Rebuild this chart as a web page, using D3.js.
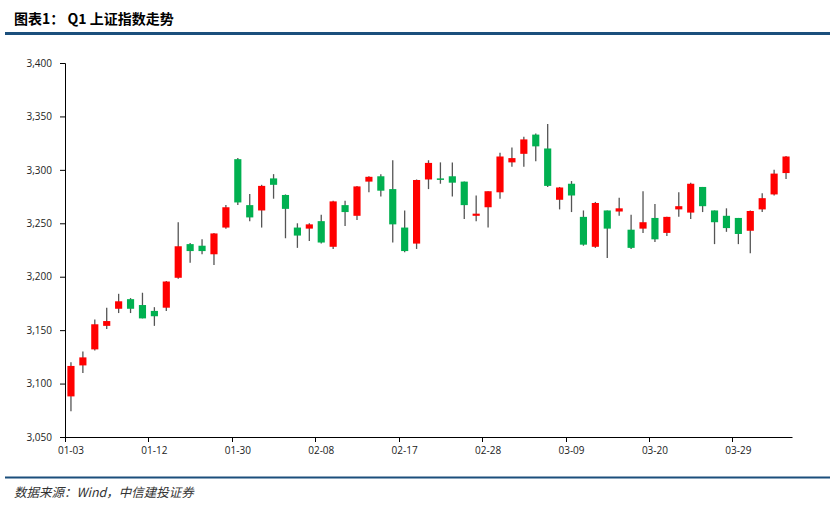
<!DOCTYPE html>
<html><head><meta charset="utf-8">
<script src="https://cdn.jsdelivr.net/npm/d3@7/dist/d3.min.js"></script>
<style>body{margin:0;background:#fff;}svg{display:block;}</style>
</head><body>
<svg id="c" width="835" height="505"></svg>
<script>
const dates = ["01-03","01-04","01-05","01-06","01-09","01-10","01-11","01-12","01-13","01-16","01-17","01-18","01-19","01-20","01-30","01-31","02-01","02-02","02-03","02-06","02-07","02-08","02-09","02-10","02-13","02-14","02-15","02-16","02-17","02-20","02-21","02-22","02-23","02-24","02-27","02-28","03-01","03-02","03-03","03-06","03-07","03-08","03-09","03-10","03-13","03-14","03-15","03-16","03-17","03-20","03-21","03-22","03-23","03-24","03-27","03-28","03-29","03-30","03-31","04-03","04-04"];
const open  = [3088,3117,3132,3154,3170,3179,3173.5,3168,3171,3199,3230.5,3229,3221,3246,3310,3267,3262,3292,3276.5,3246,3245,3252,3228,3267,3257,3289,3294,3282,3246,3231,3291,3292,3294,3289,3257,3265,3279,3307,3315,3333,3320,3272,3287,3256,3228,3262,3261,3244,3245,3255,3241,3263,3260,3284,3262,3257,3255,3243,3263,3277,3297];
const close = [3116.5,3124.5,3155.5,3158.5,3177,3170,3161,3163,3195.5,3228.5,3224,3224,3240.5,3265,3269.5,3255.5,3285,3286,3263.5,3238.5,3249,3232,3270.5,3260.5,3284.5,3293.5,3280.5,3249,3224,3290.5,3306.5,3291,3288,3267,3259,3280,3312.5,3311,3328.5,3322,3285,3283.5,3276,3230,3269,3245,3264,3227,3251,3235,3256,3266,3287,3266,3251,3245.5,3240,3261.5,3273.5,3296.5,3312.5];
const high  = [3120,3130,3160,3171,3184,3180,3185,3171.5,3196,3251,3231.5,3235,3241,3267,3311,3277.5,3286,3296,3277,3250,3250,3258,3271,3271,3285,3294,3296,3309,3262,3291,3309,3307,3307,3289,3276,3280,3316,3321,3331,3334,3343,3284,3289.5,3262,3270,3262,3274,3258,3280,3268,3256,3279,3288,3284,3262,3264,3255,3262,3278,3300,3313];
const low   = [3074,3110,3131,3151,3166,3166,3161,3154,3168,3198,3213,3221,3211,3245,3267,3252,3246,3273,3236,3227,3233.5,3231,3226,3247.5,3253,3279,3275,3232,3223,3226,3282,3287,3275,3254,3252,3246,3273,3303,3303,3308,3284,3263,3260.5,3229,3227,3217.5,3257,3226,3241,3232.5,3238,3256,3254,3260.5,3230.5,3242,3230.5,3222,3260.5,3276,3291.5];
const labelIdx = [0,7,14,21,28,35,42,49,56];
const yTicks = [3050,3100,3150,3200,3250,3300,3350,3400];

const svg = d3.select("#c");
const L = 65, R = 792, T = 63, B = 437;
const x = d3.scaleBand().domain(d3.range(dates.length)).range([L, R]).paddingInner(0).paddingOuter(0);
const y = d3.scaleLinear().domain([3050, 3400]).range([B, T]);

// title
svg.append("text").attr("x", 14).attr("y", 24)
  .attr("font-family", "'Noto Sans CJK SC', sans-serif").attr("font-weight", "bold")
  .attr("font-size", 14).attr("fill", "#000").text("图表1： Q1 上证指数走势");
svg.append("line").attr("x1", 5).attr("x2", 830).attr("y1", 33.5).attr("y2", 33.5)
  .attr("stroke", "#1B4F7C").attr("stroke-width", 3);
// footer
svg.append("line").attr("x1", 5).attr("x2", 830).attr("y1", 477.5).attr("y2", 477.5)
  .attr("stroke", "#1B4F7C").attr("stroke-width", 2);
svg.append("text").attr("x", 14).attr("y", 497)
  .attr("font-family", "'Noto Sans CJK SC', sans-serif").attr("font-style", "italic")
  .attr("font-size", 12.5).attr("fill", "#333").attr("transform", "skewX(0)")
  .text("数据来源：Wind，中信建投证券");

// y axis
const yAxis = svg.append("g").attr("transform", `translate(${L},0)`)
  .call(d3.axisLeft(y).tickValues(yTicks).tickFormat(d3.format(",")).tickSize(5).tickPadding(8));
yAxis.select(".domain").attr("stroke", "#000").attr("stroke-width", 1);
yAxis.selectAll(".tick line").attr("stroke", "#000");
yAxis.selectAll("text").attr("font-family", "'Open Sans', sans-serif").attr("font-size", 10).attr("fill", "#222");

// x axis
const xAxis = svg.append("g").attr("transform", `translate(0,${B})`)
  .call(d3.axisBottom(x).tickValues(labelIdx).tickFormat(i => dates[i]).tickSize(0).tickPadding(10));
xAxis.select(".domain").attr("stroke", "#000").attr("stroke-width", 1);
xAxis.selectAll("text").attr("font-family", "'Open Sans', sans-serif").attr("font-size", 10).attr("fill", "#222");
xAxis.selectAll(".tickb").data(labelIdx).enter().append("line")
  .attr("x1", i => Math.round(x(i)) + 0.5).attr("x2", i => Math.round(x(i)) + 0.5)
  .attr("y1", 0).attr("y2", 5).attr("stroke", "#000");

// candles
const bw = x.bandwidth() * 0.6;
const g = svg.append("g");
const idx = d3.range(dates.length);
g.selectAll(".wick").data(idx).enter().append("line")
  .attr("x1", i => x(i) + x.bandwidth() / 2).attr("x2", i => x(i) + x.bandwidth() / 2)
  .attr("y1", i => y(high[i])).attr("y2", i => y(low[i]))
  .attr("stroke", "#555").attr("stroke-width", 1.3);
g.selectAll(".body").data(idx).enter().append("rect")
  .attr("x", i => x(i) + (x.bandwidth() - bw) / 2).attr("width", bw)
  .attr("y", i => y(Math.max(open[i], close[i])))
  .attr("height", i => Math.max(1.5, Math.abs(y(open[i]) - y(close[i]))))
  .attr("fill", i => close[i] >= open[i] ? "#FF0000" : "#00B050");
</script>
</body></html>
